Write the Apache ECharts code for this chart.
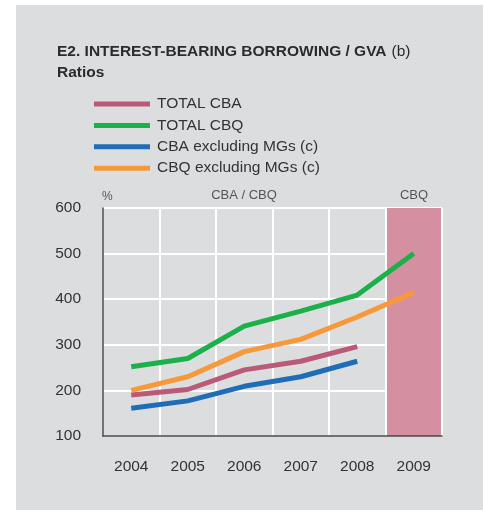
<!DOCTYPE html>
<html><head><meta charset="utf-8">
<script src="https://cdn.jsdelivr.net/npm/echarts@6/dist/echarts.min.js"></script>
<style>
html,body{margin:0;padding:0;background:#fff;}
#c{position:absolute;left:16px;top:5px;width:467px;height:505px;background:#dcdddf;}
</style></head>
<body><div id="c"></div>
<script>
const years = ['2004','2005','2006','2007','2008','2009'];
const totalCBA = [190, 202, 245, 264, 296, null];
const totalCBQ = [252, 270, 341, 374, 409, 500];
const cbaExMG = [161, 177, 209, 230, 264, null];
const cbqExMG = [200, 230, 285, 312, 361, 415];
const yTicks = {min:100, max:600, interval:100};

const FONT = '"Liberation Sans", Arial, Helvetica, sans-serif';
const chart = echarts.init(document.getElementById('c'));
const mk = (name, data, color) => ({
  name, type:'line', data, symbol:'none', smooth:false,
  lineStyle:{width:5, color}, itemStyle:{color}, connectNulls:false
});
chart.setOption({
  animation:false,
  textStyle:{fontFamily:FONT},
  title:{
    left:36, top:31,
    text:'{b|E2. INTEREST-BEARING BORROWING / GVA} {n|(b)}\n{b|Ratios}',
    textStyle:{fontWeight:'normal', rich:{
      b:{fontFamily:FONT, fontWeight:'bold', fontSize:15.5, color:'#2b2b2b', lineHeight:21},
      n:{fontFamily:FONT, fontWeight:'normal', fontSize:15.5, color:'#2b2b2b', lineHeight:21}
    }}
  },
  legend:{
    orient:'vertical', left:73, top:86, itemWidth:56, itemHeight:5, itemGap:5.4,
    icon:'rect',
    textStyle:{fontFamily:FONT, fontSize:15.5, color:'#333', padding:[0,0,0,2]},
    data:['TOTAL CBA','TOTAL CBQ','CBA excluding MGs (c)','CBQ excluding MGs (c)']
  },
  grid:{left:87, right:41, top:203, bottom:74},
  xAxis:{
    type:'category', data:years, boundaryGap:true,
    axisLine:{lineStyle:{color:'#444', width:1.5}},
    axisTick:{show:false},
    axisLabel:{fontFamily:FONT, fontSize:15.5, color:'#333', margin:23},
    splitLine:{show:true, lineStyle:{color:'#fff', width:2}},
    splitArea:{show:true, areaStyle:{color:['rgba(0,0,0,0)','rgba(0,0,0,0)','rgba(0,0,0,0)','rgba(0,0,0,0)','rgba(0,0,0,0)','#d48fa1']}}
  },
  yAxis:{
    type:'value', min:yTicks.min, max:yTicks.max, interval:yTicks.interval,
    axisLine:{show:true, lineStyle:{color:'#444', width:1.5}},
    axisTick:{show:false},
    axisLabel:{fontFamily:FONT, fontSize:15.5, color:'#333', margin:22},
    splitLine:{show:true, lineStyle:{color:'#fff', width:2}}
  },
  graphic:[
    {type:'text', left:86, top:186, style:{text:'%', font:'12px '+FONT, fill:'#555'}},
    {type:'text', x:228, y:184, style:{text:'CBA / CBQ', font:'13px '+FONT, fill:'#555', textAlign:'center'}},
    {type:'text', x:398, y:184, style:{text:'CBQ', font:'13px '+FONT, fill:'#555', textAlign:'center'}},
    {type:'rect', shape:{x:425.5, y:203, width:1.5, height:228}, style:{fill:'#fff'}}
  ],
  series:[
    mk('TOTAL CBA', totalCBA, '#bb5a78'),
    mk('TOTAL CBQ', totalCBQ, '#1cb04b'),
    mk('CBA excluding MGs (c)', cbaExMG, '#1f6db6'),
    mk('CBQ excluding MGs (c)', cbqExMG, '#f7983a')
  ]
});
</script></body></html>
